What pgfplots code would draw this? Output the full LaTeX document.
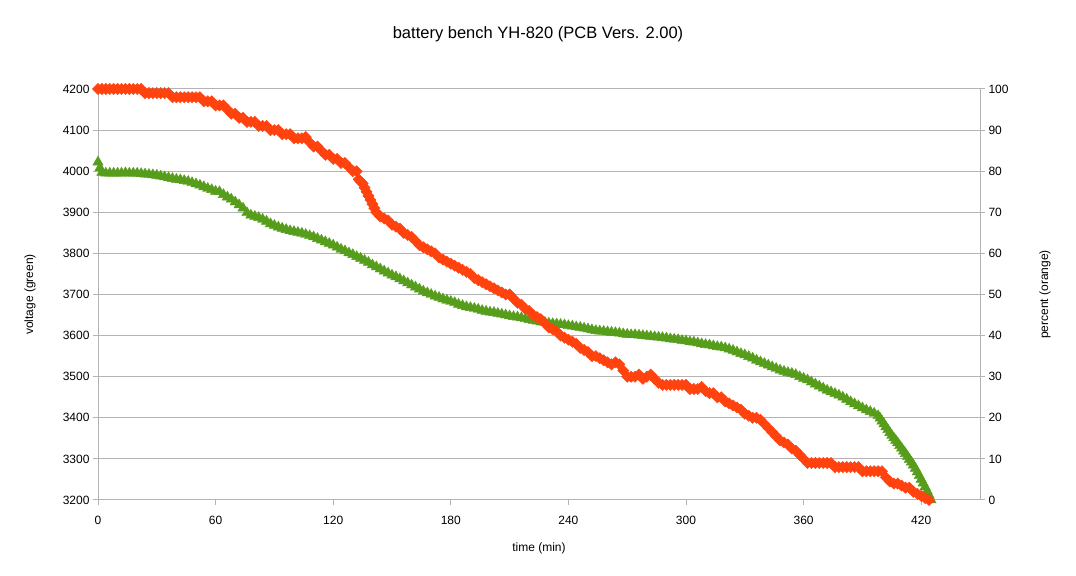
\documentclass[border=0pt]{standalone}
\usepackage{pgfplots}
\pgfplotsset{compat=1.18}
\usepackage{fontspec}
\setmainfont{Liberation Sans}

\definecolor{voltgreen}{HTML}{579D1C}
\definecolor{pctorange}{HTML}{FF420E}
\definecolor{gridgray}{HTML}{B3B3B3}

\pgfplotsset{
  benchaxis/.style={
    scale only axis,
    width=882bp, height=411bp,
    at={(98bp,76bp)}, anchor=south west,
    xmin=0, xmax=450,
    clip=false,
    tick align=outside,
    major tick length=5bp,
    axis line style={gridgray, line width=1bp},
    every tick/.style={gridgray, line width=1bp},
    /pgf/number format/assume math mode=true,
    /pgf/number format/1000 sep={},
    tick label style={font=\fontsize{12bp}{14bp}\selectfont, text=black},
    label style={font=\fontsize{12bp}{14bp}\selectfont, text=black},
  },
}

\begin{document}
\begin{tikzpicture}
\path[use as bounding box] (0,0) rectangle (1076bp,576bp);

% left axis: cell voltage in mV
\begin{axis}[
  benchaxis,
  axis x line*=bottom,
  axis y line*=left,
  ymin=3200, ymax=4200,
  xtick={0,60,...,420},
  ytick={3200,3300,...,4200},
  xticklabel style={yshift=-8bp},
  ymajorgrids,
  grid style={gridgray, line width=1bp},
  xlabel={time (min)},
  ylabel={voltage (green)},
  xlabel style={at={(axis description cs:0.5,-0.1168)}, anchor=center},
  ylabel style={at={(axis description cs:-0.0771,0.5)}, anchor=center, rotate=0},
  title={battery bench YH-820 (PCB Vers. 2.00)},
  title style={at={(axis description cs:0.4989,1.1387)}, anchor=center, yshift=-8bp,
               font=\fontsize{16.5bp}{19bp}\selectfont},
]
\addplot[only marks, mark=triangle*, mark size=6bp, color=voltgreen,
         mark options={draw=none, fill=voltgreen}] coordinates {
(0,4022)(1,4008)(2,3997)(4,3995)(6,3995)(8,3995)(10,3995)(12,3995)(14,3996)(16,3995)
(18,3995)(20,3995)(22,3994)(24,3993)(26,3992)(28,3991)(30,3990)(32,3988)(34,3986)(36,3984)
(38,3982)(40,3980)(42,3979)(44,3977)(46,3975)(48,3972)(50,3969)(52,3966)(54,3962)(56,3958)
(58,3955)(60,3951)(62,3950)(64,3943)(66,3937)(68,3932)(70,3925)(72,3918)(74,3910)(76,3899)
(78,3893)(80,3890)(82,3887)(84,3883)(86,3878)(88,3872)(90,3868)(92,3864)(94,3861)(96,3858)
(98,3855)(100,3853)(102,3851)(104,3849)(106,3846)(108,3843)(110,3840)(112,3836)(114,3832)(116,3828)
(118,3824)(120,3820)(122,3815)(124,3810)(126,3806)(128,3801)(130,3797)(132,3792)(134,3788)(136,3783)
(138,3778)(140,3772)(142,3767)(144,3762)(146,3757)(148,3752)(150,3747)(152,3743)(154,3738)(156,3733)
(158,3728)(160,3723)(162,3718)(164,3713)(166,3708)(168,3704)(170,3700)(172,3696)(174,3693)(176,3689)
(178,3686)(180,3683)(182,3680)(184,3676)(186,3673)(188,3670)(190,3668)(192,3666)(194,3664)(196,3661)
(198,3659)(200,3657)(202,3656)(204,3654)(206,3652)(208,3650)(210,3648)(212,3646)(214,3645)(216,3643)
(218,3641)(220,3639)(222,3637)(224,3635)(226,3633)(228,3632)(230,3630)(232,3629)(234,3628)(236,3627)
(238,3626)(240,3624)(242,3623)(244,3621)(246,3620)(248,3618)(250,3616)(252,3614)(254,3612)(256,3611)
(258,3610)(260,3609)(262,3608)(264,3607)(266,3606)(268,3604)(270,3603)(272,3602)(274,3602)(276,3601)
(278,3600)(280,3599)(282,3598)(284,3597)(286,3596)(288,3595)(290,3594)(292,3592)(294,3591)(296,3590)
(298,3588)(300,3587)(302,3585)(304,3584)(306,3582)(308,3580)(310,3578)(312,3577)(314,3575)(316,3573)
(318,3572)(320,3570)(322,3567)(324,3564)(326,3560)(328,3556)(330,3553)(332,3549)(334,3545)(336,3540)
(338,3536)(340,3532)(342,3528)(344,3524)(346,3520)(348,3516)(350,3513)(352,3510)(354,3508)(356,3505)
(358,3500)(360,3496)(362,3492)(364,3487)(366,3482)(368,3477)(370,3472)(372,3467)(374,3463)(376,3459)
(378,3455)(380,3450)(382,3445)(384,3439)(386,3434)(388,3429)(390,3424)(392,3419)(394,3415)(396,3411)
(398,3405)(399,3399)(400,3392)(401,3385)(402,3378)(403,3371)(404,3364)(405,3357)(406,3351)(407,3345)
(408,3339)(409,3332)(410,3326)(411,3319)(412,3313)(413,3306)(414,3299)(415,3292)(416,3285)(417,3277)
(418,3268)(419,3259)(420,3250)(421,3241)(422,3232)(423,3222)(424,3212)(425,3200)
};
\end{axis}

% right axis: remaining capacity in percent
\begin{axis}[
  benchaxis,
  axis x line=none,
  axis y line*=right,
  ymin=0, ymax=100,
  ytick={0,10,...,100},
  ylabel={percent (orange)},
  ylabel style={at={(axis description cs:1.0737,0.5)}, anchor=center},
]
\addplot[only marks, mark=square*, mark size=4bp, color=pctorange,
         mark options={draw=none, fill=pctorange, rotate=45}] coordinates {
(0,100)(2,100)(4,100)(6,100)(8,100)(10,100)(12,100)(14,100)(16,100)(18,100)(20,100)(22,100)
(24,99)(26,99)(28,99)(30,99)(32,99)(34,99)(36,99)
(38,98)(40,98)(42,98)(44,98)(46,98)(48,98)(50,98)(52,98)
(54,97)(56,97)(58,97)(60,96)(62,96)(64,96)(66,95)(68,94)(70,94)(72,93)(74,93)
(76,92)(78,92)(80,92)(82,91)(84,91)(86,91)(88,90)(90,90)(92,90)(94,89)(96,89)(98,89)
(100,88)(102,88)(104,88)(106,88.3)(108,87)(110,86)(112,86)(114,85)(116,84)(118,84)
(120,83)(122,83)(124,82)(126,82)(128,81)(130,80)(132,80)
(133,78)(134,77.5)(135,77)(136,76)(137,75)(138,74)(139,73)(140,72)(141,71)(142,70)
(144,69)(146,68.5)(148,68)(150,67)(152,66.5)(154,66)(156,65)(158,64.5)(160,64)(162,63)
(164,62)(166,61.5)(168,61)(170,60.5)(172,60)(174,59)(176,58.5)(178,58)(180,57.5)(182,57)
(184,56.5)(186,56)(188,55.5)(190,55)(192,54)(194,53.5)(196,53)(198,52.5)(200,52)(202,51.5)
(204,51)(206,50.5)(208,50)(210,50)(212,49)(214,48)(216,47.5)(218,46.5)(220,46)(222,45)
(224,44.5)(226,44)(228,43)(230,42)(232,41.5)(234,41)(236,40)(238,39.5)(240,39)(242,38.5)
(244,38)(246,37)(248,36.5)(250,36)(252,35)(254,35)(256,34.5)(258,34)(260,33.5)(262,33)
(264,33.5)(266,33)(268,31.5)(270,30)(272,30)(274,30)(276,30.5)(278,29.5)(280,30)(282,30.5)
(284,29.5)(286,28.5)(288,28)(290,28)(292,28)(294,28)(296,28)(298,28)(300,28)(302,27)
(304,27)(306,27)(308,27.5)(310,26.5)(312,26)(314,26)(316,25)(318,25)(320,24)(322,23.5)
(324,23)(326,22.5)(328,22)(330,21)(332,20.5)(334,20)(336,20)(338,19.5)(340,18.5)(342,17.5)
(344,16.5)(346,15.5)(348,14.5)(350,14)(352,13.5)(354,12.5)(356,12)(358,11)(360,10)(362,9)
(364,9)(366,9)(368,9)(370,9)(372,9)(374,9)(376,8)(378,8)(380,8)(382,8)(384,8)(386,8)(388,8)
(390,7)(392,7)(394,7)(396,7)(398,7)(400,7)(402,5.5)(404,4.5)(406,4)(408,4)(410,3.5)
(412,3)(414,3)(416,2)(418,1.5)(420,1)(422,0.5)(424,0)
};
\end{axis}
\end{tikzpicture}
\end{document}
